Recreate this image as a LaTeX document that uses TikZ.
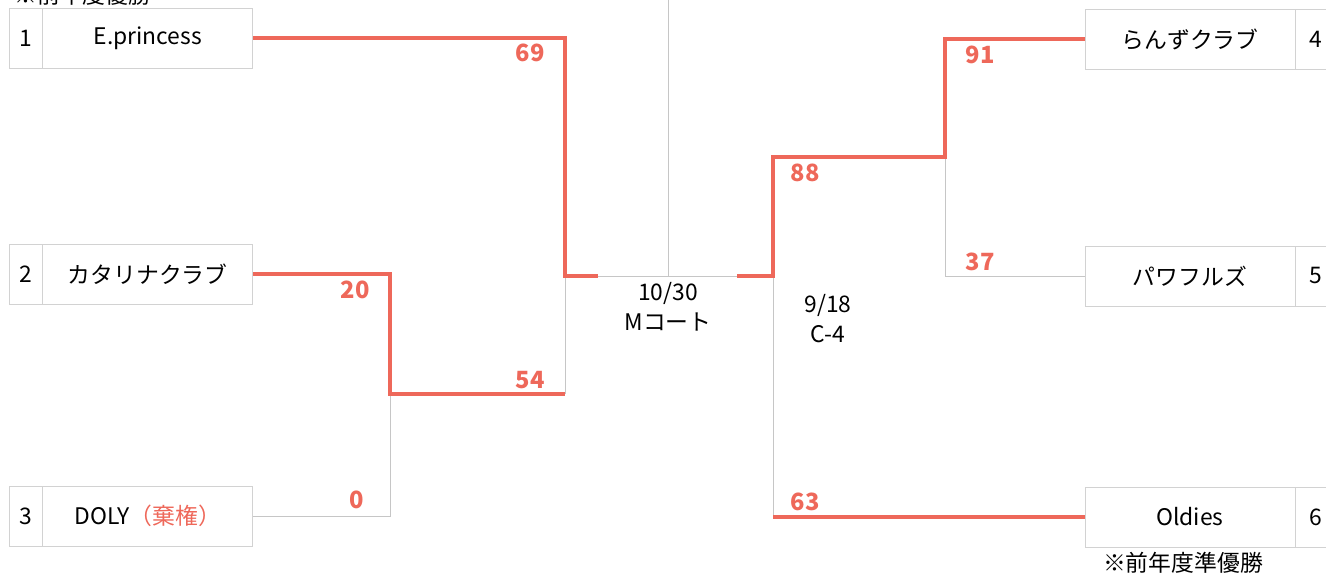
\documentclass[tikz,border=0pt]{standalone}
\usepackage{fontspec}
\setmainfont{Noto Sans CJK JP}
\usetikzlibrary{positioning}
\definecolor{winred}{RGB}{238,104,90}

\begin{document}
\begin{tikzpicture}[
    x=0.02cm, y=-0.02cm,
    every node/.style={font=\fontsize{13}{15}\selectfont},
    namebox/.style={rectangle, draw=gray!35, minimum width=4.2cm, minimum height=1.2cm, inner sep=0pt},
    numbox/.style={rectangle, draw=gray!35, minimum width=0.66cm, minimum height=1.2cm, inner sep=0pt},
    winline/.style={draw=winred, line width=2.2pt},
    loseline/.style={draw=gray!45, line width=0.5pt},
    score/.style={text=winred, font=\bfseries\fontsize{13.5}{15}\selectfont}
]
\clip (0,0) rectangle (1326,578);
\useasboundingbox (0,0) rectangle (1326,578);

% Left side teams
\node[numbox] (n1) at (25.5,38) {1};
\node[namebox, right=0pt of n1] (t1) {E.princess};
\node[numbox] (n2) at (25.5,274) {2};
\node[namebox, right=0pt of n2] (t2) {カタリナクラブ};
\node[numbox] (n3) at (25.5,516) {3};
\node[namebox, right=0pt of n3] (t3) {DOLY\textcolor{winred}{（棄権）}};

% Right side teams
\node[namebox] (t4) at (1190,39) {らんずクラブ};
\node[numbox, right=0pt of t4, minimum width=0.8cm] (n4) {4};
\node[namebox] (t5) at (1190,276) {パワフルズ};
\node[numbox, right=0pt of t5, minimum width=0.8cm] (n5) {5};
\node[namebox] (t6) at (1190,517) {Oldies};
\node[numbox, right=0pt of t6, minimum width=0.8cm] (n6) {6};

% Junctions
\coordinate (b1) at (390,394);
\coordinate (s1) at (565,394);
\coordinate (a2) at (565,276);
\coordinate (ac) at (598,276);
\coordinate (top) at (668,0);
\coordinate (mid) at (668,276);
\coordinate (cc) at (737,276);
\coordinate (c2) at (773,276);
\coordinate (r1) at (945,157);
\coordinate (r2) at (773,157);
\coordinate (r3) at (773,517);

% Losers
\draw[loseline] (t3.east) -| (b1);
\draw[loseline] (s1) -- (a2);
\draw[loseline] (a2) -- (c2);
\draw[loseline] (top) -- (mid);
\draw[loseline] (t5.west) -| (r1);
\draw[loseline] (r3) -- (c2);

% Winners
\draw[winline] (t1.east) -| (a2) -- (ac);
\draw[winline] (t2.east) -| (b1) -- (s1);
\draw[winline] (t4.west) -| (r1) -- (r2) -- (c2) -- (cc);
\draw[winline] (t6.west) -- (r3);

% Scores
\node[score] (p69) at (530,53) {69};
\node[score] (p20) at (355,290) {20};
\node[score] (p54) at (530,380) {54};
\node[score] (p0) at (357,500) {0};
\node[score] (p91) at (980,55) {91};
\node[score] (p88) at (805,173) {88};
\node[score] (p37) at (980,262) {37};
\node[score] (p63) at (805,502) {63};

% Dates and courts
\node (final) at (668,293) {10/30};
\node[below=-2pt of final] (court) {Mコート};
\node (semi) at (828,305) {9/18};
\node[below=-2pt of semi] (ccourt) {C-4};

% Notes
\node[anchor=west] (champ) at (8,-5) {※前年度優勝};
\node (runner) at (1183,563) {※前年度準優勝};
\end{tikzpicture}
\end{document}
